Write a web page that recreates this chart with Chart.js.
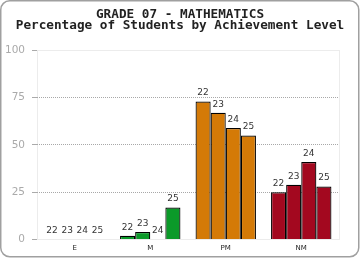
<!DOCTYPE html>
<html>
<head>
<meta charset="utf-8">
<script src="https://cdn.jsdelivr.net/npm/chart.js@4.4.1/dist/chart.umd.min.js"></script>
<style>
  html, body { margin: 0; padding: 0; background: #fff; }
  #wrap { width: 360px; height: 260px; }
</style>
</head>
<body>
<div id="wrap"><canvas id="levelChart" width="360" height="260"></canvas></div>
<script>
// Achievement levels and school years
var levels = ['E', 'M', 'PM', 'NM'];
var years = ['22', '23', '24', '25'];
var levelColors = ['#1d5ea8', '#0b9a29', '#d47a07', '#a3081f'];

// Percent of students per level, one array per year
var pct22 = [0, 2, 73, 25];
var pct23 = [0, 4, 67, 29];
var pct24 = [0, 0, 59, 41];
var pct25 = [0, 17, 55, 28];

var yTicks = [0, 25, 50, 75, 100];
var titleLines = ['GRADE 07 - MATHEMATICS', 'Percentage of Students by Achievement Level'];

var series = [pct22, pct23, pct24, pct25];

// Rounded frame + faint plot box
var framePlugin = {
  id: 'frame',
  beforeDraw: function(chart) {
    var c = chart.ctx;
    c.save();
    c.fillStyle = '#fff';
    c.fillRect(0, 0, chart.width, chart.height);
    c.strokeStyle = '#a0a0a0';
    c.lineWidth = 1.5;
    c.beginPath();
    c.roundRect(0.75, 0.75, 358, 256, 9);
    c.stroke();
    var a = chart.chartArea;
    c.strokeStyle = '#ececec';
    c.lineWidth = 1;
    c.strokeRect(Math.round(a.left) + 0.5, Math.round(a.top) + 0.5,
      Math.round(a.right - a.left), Math.round(a.bottom - a.top));
    c.restore();
  }
};

// Year label above each bar
var yearLabels = {
  id: 'yearLabels',
  afterDatasetsDraw: function(chart) {
    var c = chart.ctx;
    c.save();
    c.font = '9px "DejaVu Sans", sans-serif';
    c.fillStyle = '#333';
    c.textAlign = 'center';
    c.textBaseline = 'bottom';
    chart.data.datasets.forEach(function(ds, i) {
      chart.getDatasetMeta(i).data.forEach(function(bar) {
        c.fillText(ds.label, bar.x, bar.y - 4);
      });
    });
    c.restore();
  }
};

var chart = new Chart(document.getElementById('levelChart'), {
  type: 'bar',
  data: {
    labels: levels,
    datasets: series.map(function(vals, i) {
      return {
        label: years[i],
        data: vals,
        backgroundColor: levelColors,
        borderColor: '#000',
        borderWidth: 1.2,
        borderSkipped: 'bottom',
        categoryPercentage: 0.8,
        barPercentage: 1.0
      };
    })
  },
  options: {
    responsive: false,
    animation: false,
    layout: { padding: { left: 0, right: 0, top: 0, bottom: 4 } },
    plugins: {
      legend: { display: false },
      tooltip: { enabled: false },
      title: {
        display: true,
        text: titleLines,
        color: '#222',
        font: { family: '"DejaVu Sans Mono", monospace', weight: 'bold', size: 12.7, lineHeight: 0.88 },
        padding: { top: 9, bottom: 19 }
      }
    },
    scales: {
      x: {
        grid: { display: false, drawTicks: false },
        border: { display: true, color: '#ececec' },
        ticks: { color: '#222', font: { size: 7, family: '"DejaVu Sans", sans-serif' }, padding: 4 }
      },
      y: {
        min: 0,
        max: 100,
        afterBuildTicks: function(s) { s.ticks = yTicks.map(function(v) { return { value: v }; }); },
        afterFit: function(s) { s.width = 37; },
        grid: {
          color: function(ctx) {
            var v = ctx.tick ? ctx.tick.value : 0;
            return (v === 0 || v === 100) ? 'rgba(0,0,0,0)' : '#a8a8a8';
          },
          tickColor: '#aaa',
          tickLength: 5,
          tickBorderDash: []
        },
        border: { display: false, dash: [1, 1] },
        ticks: { color: '#aaa', font: { size: 10.5, family: '"DejaVu Sans", sans-serif' }, padding: 7 }
      },
      // empty right-hand strip so the title stays centred on the canvas
      yRight: {
        position: 'right',
        min: 0,
        max: 100,
        grid: { display: false, drawTicks: false },
        border: { display: false },
        ticks: { display: false },
        afterFit: function(s) { s.width = 21; }
      }
    }
  },
  plugins: [framePlugin, yearLabels]
});
</script>
</body>
</html>
